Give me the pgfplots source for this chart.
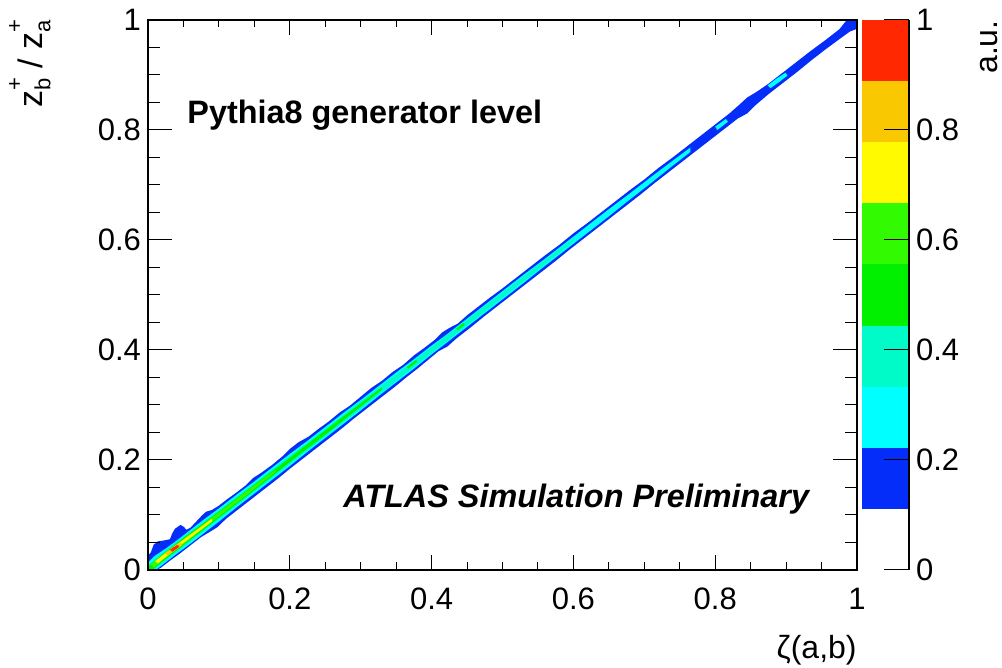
\documentclass[border=0pt]{standalone}
\usepackage{fontspec}
\setmainfont{Liberation Sans}
\usepackage{pgfplots}
\pgfplotsset{compat=1.18}

% contour level colours (9 levels from 0 to 1)
\definecolor{lvBlue}{RGB}{5,45,250}
\definecolor{lvCyan}{RGB}{0,255,255}
\definecolor{lvAqua}{RGB}{0,250,200}
\definecolor{lvGreen}{RGB}{0,240,0}
\definecolor{lvLime}{RGB}{50,250,0}
\definecolor{lvYellow}{RGB}{255,250,0}
\definecolor{lvOrange}{RGB}{250,200,0}
\definecolor{lvRed}{RGB}{255,40,0}

\newcommand{\tickfont}{\fontsize{15.5}{18}\selectfont}
\newcommand{\titlefont}{\fontsize{16}{19}\selectfont}
\newcommand{\labelfont}{\fontsize{16.2}{19}\selectfont}
\newcommand{\supsub}[2]{\rlap{\raisebox{0.62em}{\fontsize{11}{11}\selectfont #1}}\raisebox{-0.22em}{\fontsize{11}{11}\selectfont #2}}

\begin{document}
\begin{tikzpicture}
\path[use as bounding box] (-74pt,-49pt) rectangle (427pt,285pt);

% ---------------- main 2D distribution ----------------
\begin{axis}[
  at={(0pt,0pt)}, anchor=south west,
  scale only axis, width=354.5pt, height=275pt,
  xmin=0, xmax=1, ymin=0, ymax=1,
  xtick={0,0.2,0.4,0.6,0.8,1}, ytick={0,0.2,0.4,0.6,0.8,1},
  minor tick num=3,
  tick align=inside,
  axis on top,
  axis line style={line width=0.6pt, black},
  every tick/.style={black, line width=0.5pt},
  xtick style={/pgfplots/major tick length=7.5pt, /pgfplots/minor tick length=3.75pt},
  ytick style={/pgfplots/major tick length=12pt, /pgfplots/minor tick length=6pt},
  tick label style={font=\tickfont},
  /pgf/number format/assume math mode=true,
  xticklabel style={yshift=-5.5pt},
]
% outermost level (0.11)
\addplot[fill=lvBlue, draw=none] coordinates {
 (0,0.008)(0,0.026)(0.004,0.032)(0.008,0.046)(0.014,0.052)(0.024,0.054)(0.031,0.056)
 (0.034,0.066)(0.038,0.075)(0.046,0.082)(0.051,0.078)(0.054,0.073)(0.060,0.077)(0.068,0.088)
 (0.076,0.099)(0.082,0.106)(0.090,0.109)(0.100,0.117)(0.112,0.129)(0.125,0.141)(0.138,0.154)
 (0.148,0.167)(0.160,0.177)(0.175,0.191)(0.190,0.207)(0.200,0.220)(0.212,0.232)(0.226,0.242)
 (0.240,0.256)(0.255,0.270)(0.270,0.286)(0.285,0.299)(0.300,0.315)(0.315,0.331)(0.330,0.344)
 (0.345,0.360)(0.360,0.373)(0.375,0.390)(0.390,0.404)(0.405,0.419)(0.415,0.432)(0.425,0.440)
 (0.437,0.448)(0.450,0.463)(0.465,0.478)(0.480,0.493)(0.500,0.512)(0.520,0.532)(0.540,0.552)
 (0.560,0.572)(0.580,0.591)(0.600,0.612)(0.620,0.631)(0.640,0.651)(0.660,0.671)(0.680,0.691)
 (0.700,0.710)(0.720,0.731)(0.740,0.750)(0.760,0.770)(0.780,0.790)(0.800,0.810)(0.820,0.830)
 (0.835,0.847)(0.845,0.859)(0.858,0.869)(0.875,0.884)(0.895,0.904)(0.915,0.924)(0.935,0.944)
 (0.955,0.963)(0.975,0.983)(0.985,0.999)(0.990,1.0)(1,1)
 (1,0.984)(0.990,0.979)(0.975,0.965)(0.955,0.946)(0.935,0.926)(0.915,0.905)(0.895,0.885)
 (0.875,0.865)(0.855,0.843)(0.845,0.830)(0.832,0.821)(0.815,0.804)(0.795,0.784)(0.775,0.764)
 (0.755,0.744)(0.735,0.724)(0.715,0.704)(0.695,0.683)(0.675,0.663)(0.655,0.643)(0.635,0.623)
 (0.615,0.603)(0.595,0.583)(0.575,0.562)(0.555,0.542)(0.535,0.522)(0.515,0.502)(0.495,0.482)
 (0.475,0.462)(0.455,0.441)(0.435,0.421)(0.422,0.406)(0.410,0.398)(0.395,0.382)(0.380,0.366)
 (0.365,0.351)(0.350,0.335)(0.335,0.320)(0.320,0.305)(0.305,0.290)(0.290,0.275)(0.275,0.259)
 (0.260,0.244)(0.245,0.229)(0.230,0.214)(0.215,0.199)(0.200,0.184)(0.185,0.168)(0.170,0.153)
 (0.155,0.138)(0.140,0.123)(0.125,0.108)(0.110,0.093)(0.098,0.078)(0.088,0.070)(0.075,0.060)
 (0.060,0.045)(0.045,0.030)(0.030,0.016)(0.018,0.004)(0.012,0)(0,0)
} --cycle;
% level 0.22
\addplot[fill=lvCyan, draw=none] coordinates {
 (0,0.014)(0.010,0.026)(0.025,0.039)(0.040,0.053)(0.060,0.073)(0.080,0.093)(0.100,0.112)
 (0.125,0.137)(0.150,0.161)(0.175,0.186)(0.200,0.211)(0.225,0.235)(0.250,0.260)(0.275,0.285)
 (0.300,0.309)(0.325,0.334)(0.350,0.359)(0.375,0.383)(0.400,0.408)(0.420,0.427)(0.440,0.447)
 (0.460,0.467)(0.480,0.487)(0.500,0.507)(0.530,0.537)(0.560,0.566)(0.590,0.596)(0.620,0.626)
 (0.650,0.656)(0.680,0.685)(0.710,0.715)(0.740,0.744)(0.765,0.768)
 (0.765,0.760)(0.740,0.735)(0.710,0.704)(0.680,0.674)(0.650,0.643)(0.620,0.613)(0.590,0.583)
 (0.560,0.553)(0.530,0.522)(0.500,0.492)(0.480,0.472)(0.460,0.452)(0.440,0.432)(0.420,0.412)
 (0.400,0.392)(0.375,0.366)(0.350,0.341)(0.325,0.316)(0.300,0.290)(0.275,0.265)(0.250,0.240)
 (0.225,0.215)(0.200,0.189)(0.175,0.164)(0.150,0.139)(0.125,0.114)(0.100,0.088)(0.080,0.068)
 (0.060,0.048)(0.040,0.029)(0.025,0.014)(0.012,0.001)(0.006,0)(0,0)
} --cycle;
\addplot[fill=lvCyan, draw=none] coordinates {
 (0.874,0.881)(0.886,0.893)(0.899,0.904)(0.902,0.899)(0.890,0.887)(0.878,0.876)
} --cycle;
\addplot[fill=lvCyan, draw=none] coordinates {
 (0.800,0.806)(0.815,0.820)(0.818,0.815)(0.803,0.800)
} --cycle;
% level 0.33
\addplot[fill=lvAqua, draw=none] coordinates {
 (0,0.009)(0.02,0.031)(0.05,0.061)(0.10,0.108)(0.15,0.157)(0.20,0.207)(0.25,0.256)
 (0.30,0.306)(0.35,0.355)(0.40,0.405)(0.45,0.455)(0.50,0.504)(0.55,0.554)(0.60,0.603)
 (0.60,0.597)(0.55,0.546)(0.50,0.496)(0.45,0.445)(0.40,0.395)(0.35,0.344)(0.30,0.294)
 (0.25,0.243)(0.20,0.193)(0.15,0.143)(0.10,0.093)(0.05,0.042)(0.02,0.012)(0.008,0)(0,0)
} --cycle;
% level 0.44
\addplot[fill=lvGreen, draw=none] coordinates {
 (0,0.006)(0.02,0.028)(0.05,0.058)(0.10,0.106)(0.15,0.155)(0.20,0.204)(0.25,0.254)
 (0.30,0.303)(0.33,0.332)
 (0.33,0.328)(0.30,0.297)(0.25,0.246)(0.20,0.196)(0.15,0.145)(0.10,0.095)(0.05,0.045)
 (0.02,0.015)(0.006,0)(0,0)
} --cycle;
\addplot[fill=lvGreen, draw=none] coordinates {
 (0.365,0.369)(0.378,0.382)(0.380,0.379)(0.367,0.366)
} --cycle;
\addplot[fill=lvGreen, draw=none] coordinates {
 (0.435,0.439)(0.445,0.449)(0.447,0.446)(0.437,0.436)
} --cycle;
% level 0.55
\addplot[fill=lvLime, draw=none] coordinates {
 (0.004,0.010)(0.02,0.026)(0.05,0.056)(0.10,0.1045)(0.14,0.144)(0.18,0.1825)
 (0.18,0.1785)(0.14,0.137)(0.10,0.0975)(0.05,0.047)(0.02,0.017)(0.008,0.004)
} --cycle;
% level 0.66
\addplot[fill=lvYellow, draw=none] coordinates {
 (0.010,0.016)(0.03,0.036)(0.05,0.055)(0.09,0.093)
 (0.09,0.088)(0.05,0.049)(0.03,0.029)(0.014,0.012)
} --cycle;
% level 0.77
\addplot[fill=lvOrange, draw=none] coordinates {
 (0.024,0.031)(0.047,0.050)(0.048,0.045)(0.027,0.026)
} --cycle;
% level 0.88
\addplot[fill=lvRed, draw=none] coordinates {
 (0.031,0.037)(0.042,0.046)(0.044,0.042)(0.034,0.033)
} --cycle;

\node[anchor=base west, inner sep=0pt, font=\labelfont\bfseries]
  at (axis cs:0.055,0.8127) {Pythia8 generator level};
\node[anchor=base west, inner sep=0pt, font=\labelfont\bfseries\itshape]
  at (axis cs:0.275,0.1145) {ATLAS Simulation Preliminary};
\end{axis}

% ---------------- colour scale ----------------
\begin{axis}[
  at={(357pt,0pt)}, anchor=south west,
  scale only axis, width=23.5pt, height=275pt,
  xmin=0, xmax=1, ymin=0, ymax=1,
  axis x line=none, axis y line*=right,
  axis on top,
  axis line style={line width=0.6pt, black},
  ytick={0,0.2,0.4,0.6,0.8,1},
  tick align=inside,
  every tick/.style={black, line width=0.5pt},
  ytick style={/pgfplots/major tick length=12.5pt},
  tick label style={font=\tickfont},
  /pgf/number format/assume math mode=true,
]
\addplot[fill=lvBlue, draw=none]   coordinates {(0,0.1111)(1,0.1111)(1,0.2222)(0,0.2222)} --cycle;
\addplot[fill=lvCyan, draw=none]   coordinates {(0,0.2222)(1,0.2222)(1,0.3333)(0,0.3333)} --cycle;
\addplot[fill=lvAqua, draw=none]   coordinates {(0,0.3333)(1,0.3333)(1,0.4444)(0,0.4444)} --cycle;
\addplot[fill=lvGreen, draw=none]  coordinates {(0,0.4444)(1,0.4444)(1,0.5556)(0,0.5556)} --cycle;
\addplot[fill=lvLime, draw=none]   coordinates {(0,0.5556)(1,0.5556)(1,0.6667)(0,0.6667)} --cycle;
\addplot[fill=lvYellow, draw=none] coordinates {(0,0.6667)(1,0.6667)(1,0.7778)(0,0.7778)} --cycle;
\addplot[fill=lvOrange, draw=none] coordinates {(0,0.7778)(1,0.7778)(1,0.8889)(0,0.8889)} --cycle;
\addplot[fill=lvRed, draw=none]    coordinates {(0,0.8889)(1,0.8889)(1,1)(0,1)} --cycle;
\end{axis}

% ---------------- axis titles ----------------
\node[anchor=base east, inner sep=0pt, rotate=90, font=\fontsize{17}{20}\selectfont]
  at (-52.5pt,275pt)
  {z\supsub{+}{b}\ /\ z\supsub{+}{a}};
\node[anchor=base east, inner sep=0pt, font=\titlefont]
  at (354.5pt,-44.5pt) {ζ(a,b)};
\node[anchor=base east, inner sep=0pt, rotate=90, font=\titlefont]
  at (424.5pt,275pt) {a.u.};
\end{tikzpicture}
\end{document}
